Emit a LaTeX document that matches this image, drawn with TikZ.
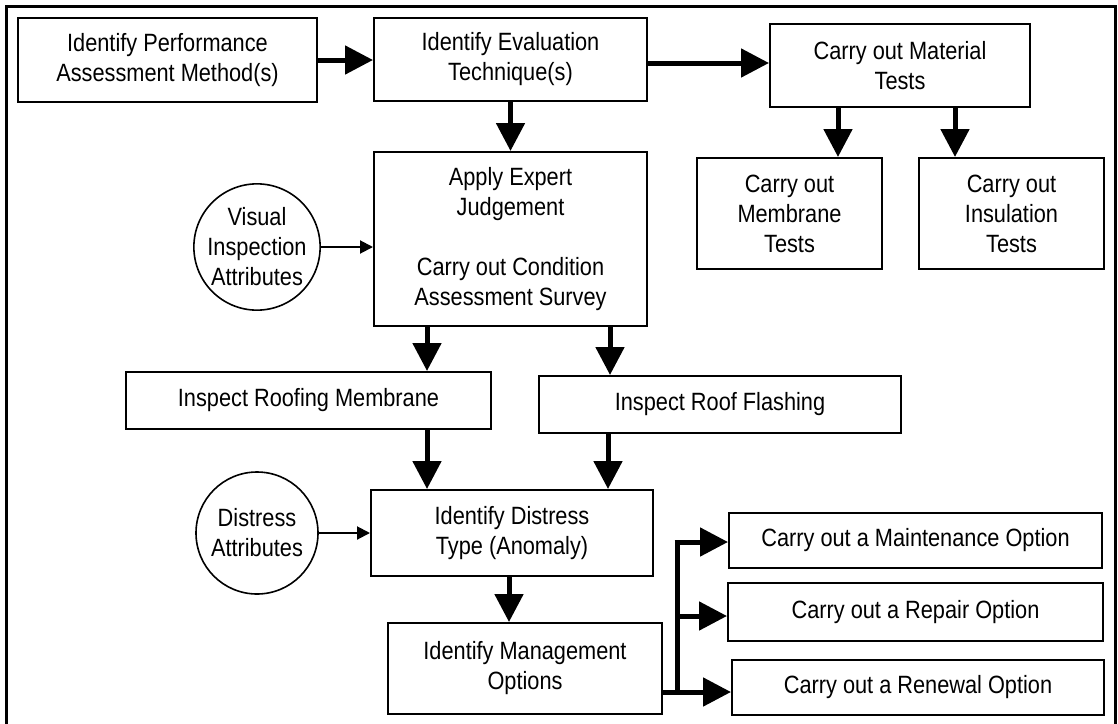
\documentclass[tikz,border=0pt]{standalone}
\usepackage{fontspec}
\setmainfont[FakeStretch=0.87]{Liberation Sans}
\usetikzlibrary{arrows.meta,calc}
\tikzset{
  box/.style={draw, line width=2pt, align=center, inner sep=0pt, font=\fontsize{25}{30}\selectfont},
  circ/.style={draw, circle, line width=1.6pt, align=center, inner sep=0pt, minimum size=122pt, font=\fontsize{25}{30}\selectfont},
  bigarrow/.style={line width=5pt, -{Triangle[length=28pt,width=28pt]}},
  bigline/.style={line width=5pt},
  smallarrow/.style={line width=2pt, -{Triangle[length=13pt,width=13pt]}},
}
\begin{document}
\begin{tikzpicture}[x=1pt,y=-1pt]
\useasboundingbox (0,0) rectangle (1118,723);
\fill[white] (0,0) rectangle (1118,723);
% outer frame (bottom cut off)
\draw[line width=3pt] (6.5,760) -- (6.5,6.5) -- (1115.5,6.5) -- (1115.5,760);

\node[box, minimum width=299pt, minimum height=84pt] (b1) at (167.5,60) {Identify Performance\\Assessment Method(s)};
\node[box, minimum width=273pt, minimum height=83pt] (b2) at (510.5,59.5) {Identify Evaluation\\Technique(s)};
\node[box, minimum width=260pt, minimum height=83pt] (b3) at (900,65.5) {Carry out Material\\Tests};
\node[box, minimum width=185pt, minimum height=111pt] (b4) at (789.5,213.5) {Carry out\\Membrane\\Tests};
\node[box, minimum width=185pt, minimum height=111pt] (b5) at (1011.5,213.5) {Carry out\\Insulation\\Tests};
\node[box, minimum width=273pt, minimum height=174pt] (b6) at (510.5,239) {Apply Expert\\Judgement\\[30pt]Carry out Condition\\Assessment Survey};
\node[box, minimum width=365pt, minimum height=57pt] (b7) at (308.5,400.5) {Inspect Roofing Membrane};
\node[box, minimum width=362pt, minimum height=57pt] (b8) at (720,404.5) {Inspect Roof Flashing};
\node[box, minimum width=282pt, minimum height=86pt] (b9) at (512,533) {Identify Distress\\Type (Anomaly)};
\node[box, minimum width=274pt, minimum height=91pt] (b10) at (525,668.5) {Identify Management\\Options};
\node[box, minimum width=373pt, minimum height=55pt] (b11) at (915.5,540.5) {Carry out a Maintenance Option};
\node[box, minimum width=375pt, minimum height=58pt] (b12) at (915.5,612) {Carry out a Repair Option};
\node[box, minimum width=372pt, minimum height=55pt] (b13) at (918,687.5) {Carry out a Renewal Option};

\node[circ] (c1) at (257,247) {Visual\\Inspection\\Attributes};
\node[circ] (c2) at (257,533) {Distress\\Attributes};

% thick arrows
\draw[bigarrow] (b1.east) -- (b1.east -| b2.west);
\draw[bigarrow] (b2.east |- 0,63) -- (b3.west |- 0,63);
\draw[bigarrow] (b2.south) -- (b2.south |- b6.north);
\draw[bigarrow] ([xshift=48.5pt]b4.north |- b3.south) -- ([xshift=48.5pt]b4.north);
\draw[bigarrow] ([xshift=-56.5pt]b5.north |- b3.south) -- ([xshift=-56.5pt]b5.north);
\draw[bigarrow] ([xshift=-83.5pt]b6.south) -- ([xshift=-83.5pt]b6.south |- b7.north);
\draw[bigarrow] ([xshift=99.5pt]b6.south) -- ([xshift=99.5pt]b6.south |- b8.north);
\draw[bigarrow] ([xshift=118.5pt]b7.south) -- ([xshift=118.5pt]b7.south |- b9.north);
\draw[bigarrow] ([xshift=-112pt]b8.south) -- ([xshift=-112pt]b8.south |- b9.north);
\draw[bigarrow] ([xshift=-3pt]b9.south) -- ([xshift=-3pt]b9.south |- b10.north);

% branching connector
\coordinate (jb) at (677,692);
\coordinate (jm) at (677,616);
\coordinate (jt) at (677,542);
\draw[bigline] (b10.east |- jb) -- (jb) -- ([yshift=-2.5pt]jt);
\draw[bigarrow] ([xshift=-2.5pt]jt) -- (jt -| b11.west);
\draw[bigarrow] (jm) -- (jm -| b12.west);
\draw[bigarrow] (jb) -- (jb -| b13.west);

% thin arrows
\draw[smallarrow] (c1.east) -- (c1.east -| b6.west);
\draw[smallarrow] (c2.east) -- (c2.east -| b9.west);
\end{tikzpicture}
\end{document}
